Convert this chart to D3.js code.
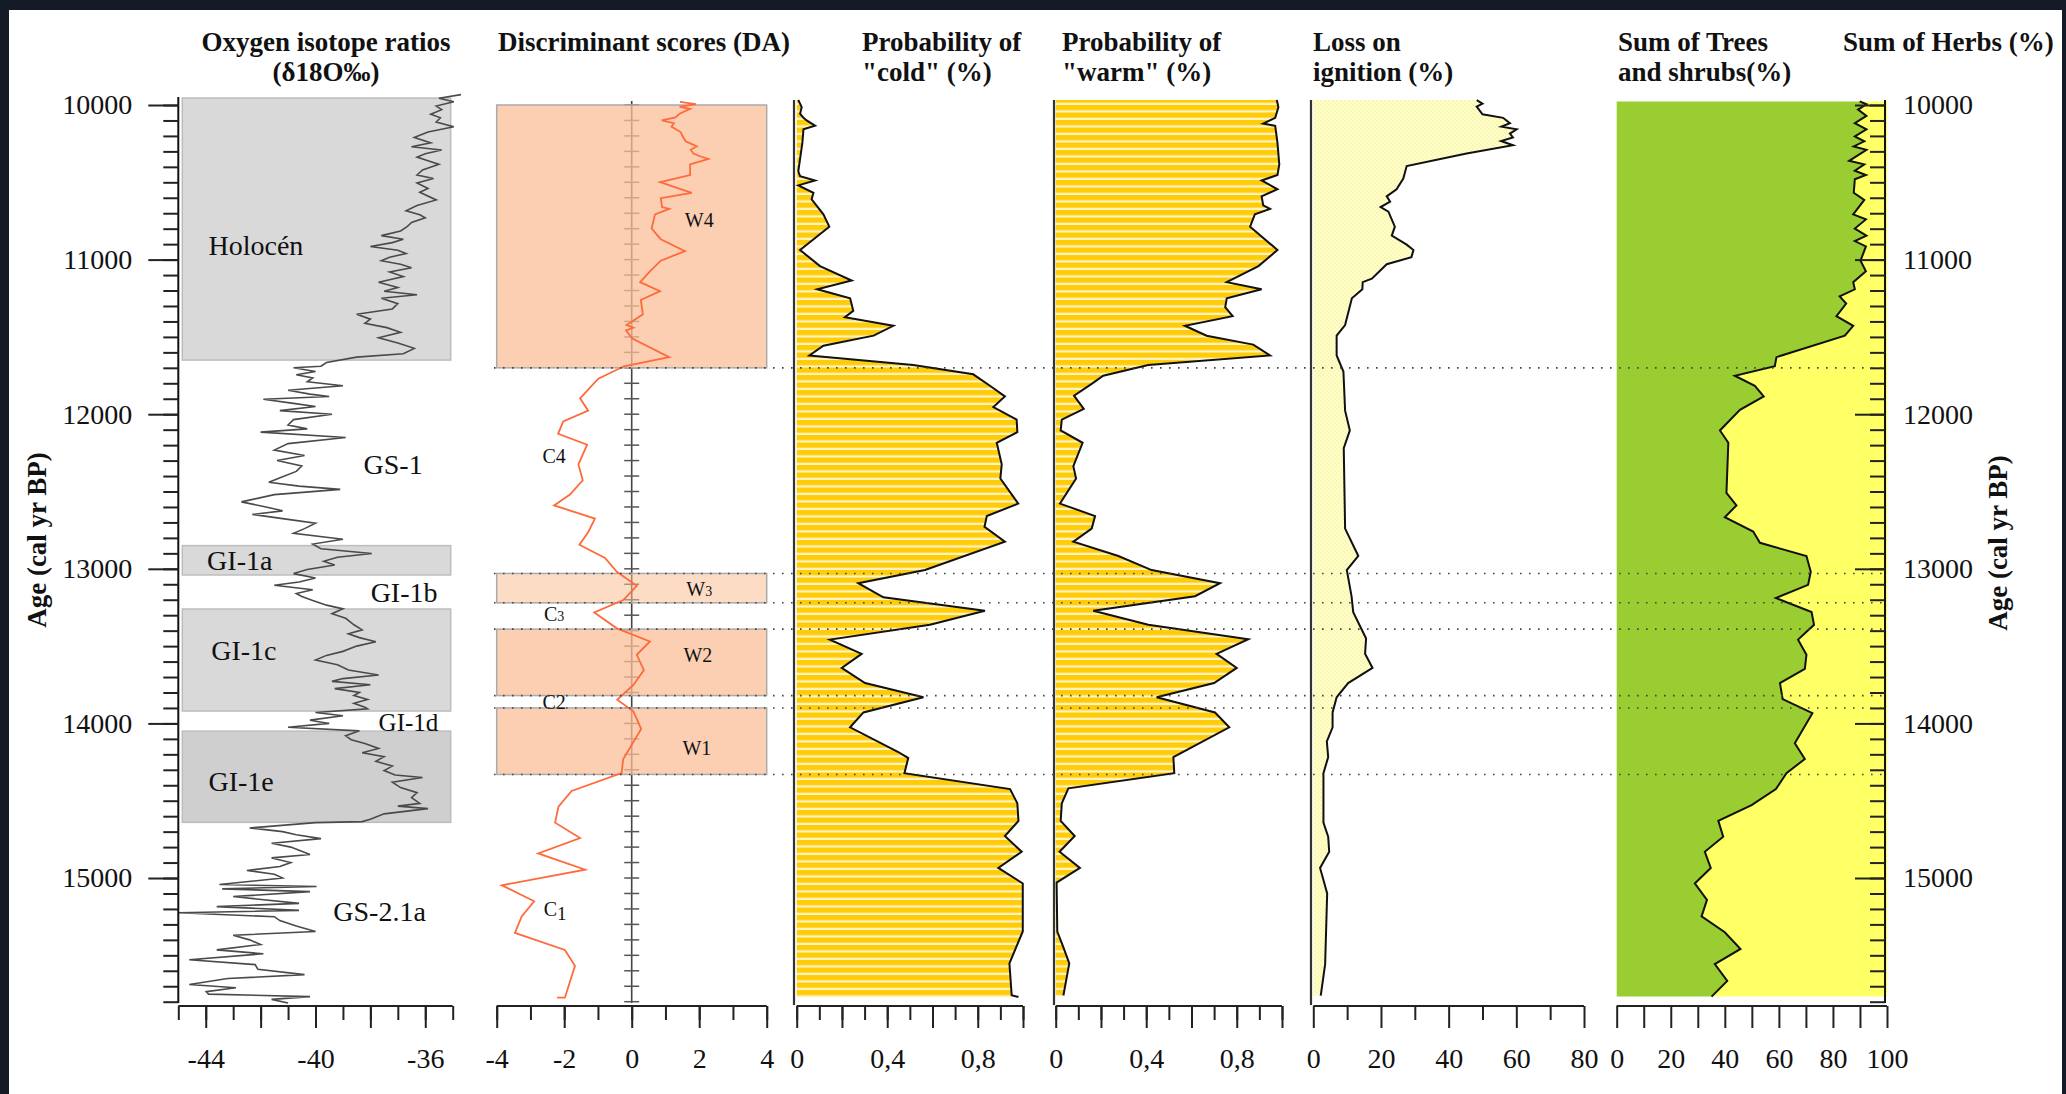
<!DOCTYPE html>
<html>
<head>
<meta charset="utf-8">
<script src="https://cdn.jsdelivr.net/npm/d3@7"></script>
<style>
  html, body { margin: 0; padding: 0; background: #151b26; }
  svg { display: block; font-family: "Liberation Serif", "Times New Roman", serif; }
  svg text { font-family: "Liberation Serif", "Times New Roman", serif !important; }
</style>
</head>
<body>
<svg id="chart" width="2066" height="1094"></svg>
<script>
// ages (cal yr BP) and values, as [age, value]
const ageTicks = [10000, 11000, 12000, 13000, 14000, 15000];
const boundaries = [11700, 13030, 13220, 13390, 13820, 13900, 14330];

const isoZones = [
  { from: 9955, to: 11650, dark: false },
  { from: 12850, to: 13040, dark: false },
  { from: 13260, to: 13920, dark: false },
  { from: 14050, to: 14640, dark: true }
];
const isoLabels = [
  ["Holocén", -43.9, 10906, 28], ["GS-1", -38.25, 12322, 28], ["GI-1a", -43.95, 12943, 28],
  ["GI-1b", -37.99, 13150, 28], ["GI-1c", -43.8, 13525, 28], ["GI-1d", -37.7, 13991, 25],
  ["GI-1e", -43.9, 14373, 28], ["GS-2.1a", -39.35, 15213, 28]
];

const daZones = [
  { from: 10000, to: 11700, light: false },
  { from: 13030, to: 13220, light: true },
  { from: 13390, to: 13820, light: false },
  { from: 13900, to: 14330, light: false }
];
const daLabels = [
  ["W", "4", 2.0, 10744], ["C", "4", -2.3, 12270], ["W", "3", 2.0, 13131], ["C", "3", -2.3, 13292],
  ["W", "2", 1.96, 13558], ["C", "2", -2.3, 13862], ["W", "1", 1.93, 14159], ["C", "1", -2.27, 15200]
];

const oxygen = [[9933,-34.7],[9956,-35.5],[9979,-34.96],[10007,-35.6],[10030,-35.4],[10060,-35.8],[10083,-35.45],[10110,-35.6],[10141,-34.96],[10175,-35.9],[10210,-36.4],[10245,-35.8],[10270,-36.5],[10291,-35.4],[10315,-36.0],[10337,-36.3],[10360,-35.9],[10384,-35.5],[10420,-36.1],[10453,-36.3],[10475,-35.7],[10505,-36.3],[10540,-35.9],[10565,-36.2],[10614,-35.6],[10650,-36.3],[10684,-36.7],[10710,-36.2],[10730,-36.0],[10760,-36.5],[10787,-36.66],[10815,-36.9],[10845,-37.6],[10868,-36.8],[10890,-37.2],[10915,-38.0],[10940,-37.0],[10961,-36.7],[10985,-37.3],[11007,-37.6],[11030,-36.9],[11053,-36.5],[11080,-37.3],[11110,-36.8],[11146,-37.7],[11180,-37.0],[11205,-37.5],[11227,-36.3],[11250,-37.6],[11285,-37.0],[11319,-37.2],[11354,-38.5],[11385,-38.0],[11412,-38.2],[11440,-37.4],[11470,-36.9],[11505,-37.7],[11540,-37.0],[11574,-36.4],[11609,-36.8],[11631,-38.5],[11666,-39.6],[11690,-39.8],[11700,-40.8],[11724,-40.0],[11745,-40.7],[11765,-40.1],[11790,-40.3],[11816,-39.0],[11845,-41.0],[11870,-40.2],[11885,-39.5],[11903,-41.9],[11930,-40.8],[11950,-40.0],[11977,-41.3],[12000,-39.4],[12035,-40.8],[12070,-41.0],[12095,-40.3],[12116,-42.0],[12151,-38.9],[12190,-41.0],[12232,-41.5],[12267,-40.4],[12300,-41.4],[12335,-40.5],[12370,-40.7],[12405,-41.2],[12440,-41.7],[12465,-40.6],[12486,-39.1],[12520,-41.5],[12567,-42.7],[12600,-41.8],[12625,-41.2],[12648,-42.3],[12680,-41.0],[12705,-40.0],[12740,-40.4],[12770,-40.8],[12809,-39.0],[12840,-40.1],[12870,-39.8],[12901,-37.95],[12925,-39.2],[12951,-39.7],[12975,-39.3],[13005,-40.3],[13031,-40.8],[13060,-40.0],[13085,-40.6],[13106,-41.5],[13135,-40.1],[13160,-40.7],[13179,-40.5],[13205,-40.1],[13235,-39.6],[13259,-39.0],[13290,-39.4],[13320,-38.9],[13362,-38.6],[13395,-38.3],[13420,-38.8],[13445,-38.4],[13472,-37.8],[13500,-38.5],[13534,-39.0],[13560,-39.6],[13590,-40.0],[13620,-39.2],[13655,-38.8],[13687,-37.7],[13710,-39.0],[13728,-39.4],[13750,-38.0],[13775,-39.3],[13800,-38.4],[13819,-38.6],[13845,-38.1],[13870,-38.6],[13895,-38.2],[13906,-38.1],[13929,-40.0],[13950,-39.0],[13979,-40.2],[14000,-39.5],[14025,-41.0],[14048,-38.4],[14080,-38.9],[14105,-38.7],[14130,-38.2],[14162,-37.7],[14190,-38.3],[14215,-37.5],[14245,-37.8],[14276,-37.2],[14305,-37.5],[14334,-37.1],[14350,-36.1],[14380,-37.2],[14415,-36.9],[14448,-36.3],[14480,-36.5],[14517,-36.2],[14535,-37.0],[14551,-35.9],[14585,-37.5],[14620,-38.0],[14635,-38.3],[14642,-40.0],[14676,-42.4],[14700,-41.2],[14720,-40.7],[14745,-39.8],[14775,-41.6],[14800,-40.9],[14848,-40.2],[14870,-41.6],[14900,-40.9],[14925,-41.3],[14951,-42.5],[14975,-41.5],[15000,-41.2],[15042,-43.5],[15055,-39.96],[15070,-43.4],[15088,-40.2],[15120,-43.0],[15164,-40.6],[15185,-43.6],[15209,-40.6],[15225,-45.0],[15250,-41.5],[15275,-41.3],[15310,-40.7],[15346,-40.0],[15370,-43.0],[15400,-42.4],[15430,-42.0],[15465,-43.6],[15490,-41.9],[15529,-44.6],[15560,-42.2],[15590,-42.1],[15625,-40.4],[15650,-43.2],[15689,-44.6],[15710,-42.9],[15735,-43.98],[15751,-43.9],[15767,-40.2],[15785,-41.6],[15808,-41.0]];

const daScores = [[9980,1.43],[9995,1.9],[10012,1.42],[10025,1.73],[10056,1.42],[10080,1.3],[10100,0.89],[10118,1.25],[10141,1.18],[10175,1.45],[10210,1.53],[10235,1.6],[10268,1.93],[10290,1.75],[10314,1.83],[10330,2.0],[10349,2.27],[10384,1.73],[10453,1.73],[10499,0.84],[10568,1.78],[10603,0.86],[10660,0.9],[10672,1.11],[10707,0.69],[10799,0.59],[10868,0.86],[10945,1.58],[11007,0.86],[11076,0.54],[11146,0.25],[11204,0.84],[11261,0.27],[11354,0.33],[11423,-0.15],[11440,0.05],[11458,-0.17],[11511,0.02],[11631,1.11],[11690,-0.23],[11770,-0.99],[11897,-1.53],[11977,-1.29],[12047,-2.03],[12127,-2.18],[12197,-1.32],[12324,-1.58],[12428,-1.45],[12520,-1.83],[12590,-2.30],[12675,-1.09],[12763,-1.29],[12844,-1.55],[12930,-0.79],[13019,-0.44],[13110,0.15],[13202,-0.25],[13282,-1.11],[13385,-0.44],[13470,0.54],[13556,0.15],[13655,0.36],[13751,0.05],[13847,-0.43],[13922,0.05],[14036,0.28],[14230,-0.25],[14322,-0.30],[14437,-1.78],[14539,-2.17],[14642,-2.27],[14741,-1.53],[14841,-2.77],[14946,-1.38],[15047,-3.85],[15150,-2.89],[15248,-3.26],[15355,-3.46],[15465,-1.98],[15568,-1.68],[15774,-1.98],[15774,-2.21]];

const probCold = [[9968,0.007],[10014,0.022],[10056,0.015],[10083,0.03],[10100,0.044],[10134,0.081],[10157,0.03],[10245,0.025],[10430,0.007],[10460,0.015],[10488,0.081],[10520,0.007],[10568,0.074],[10610,0.066],[10707,0.118],[10787,0.144],[10938,0.015],[11042,0.103],[11135,0.243],[11192,0.091],[11250,0.236],[11331,0.25],[11372,0.213],[11428,0.427],[11492,0.34],[11557,0.118],[11620,0.056],[11682,0.515],[11742,0.78],[11816,0.854],[11885,0.92],[11954,0.869],[12035,0.972],[12116,0.975],[12185,0.884],[12324,0.906],[12416,0.90],[12578,0.979],[12659,0.84],[12728,0.83],[12825,0.92],[13008,0.567],[13093,0.272],[13184,0.383],[13271,0.832],[13362,0.589],[13458,0.147],[13550,0.287],[13641,0.199],[13739,0.302],[13831,0.56],[13929,0.295],[14025,0.236],[14185,0.449],[14224,0.493],[14322,0.476],[14425,0.943],[14517,0.975],[14631,0.98],[14728,0.92],[14830,0.994],[14935,0.891],[15035,0.999],[15346,0.999],[15552,0.94],[15758,0.95],[15770,0.98]];

const probWarm = [[9968,0.977],[10014,0.984],[10083,0.97],[10120,0.917],[10135,0.97],[10245,0.98],[10384,0.988],[10453,0.98],[10488,0.91],[10545,0.98],[10591,0.91],[10649,0.917],[10672,0.947],[10707,0.88],[10787,0.859],[10938,0.98],[11042,0.896],[11146,0.756],[11192,0.91],[11250,0.756],[11308,0.749],[11366,0.782],[11428,0.571],[11492,0.667],[11550,0.873],[11620,0.947],[11682,0.409],[11751,0.21],[11804,0.159],[11880,0.081],[11966,0.124],[12035,0.027],[12105,0.022],[12185,0.119],[12336,0.078],[12416,0.09],[12578,0.019],[12659,0.174],[12740,0.159],[12825,0.078],[12917,0.277],[13008,0.424],[13093,0.726],[13177,0.616],[13271,0.166],[13362,0.409],[13455,0.851],[13550,0.711],[13641,0.8],[13739,0.7],[13831,0.446],[13929,0.704],[14025,0.767],[14218,0.52],[14322,0.524],[14420,0.056],[14517,0.027],[14631,0.022],[14728,0.084],[14830,0.017],[14935,0.107],[15030,0.004],[15346,0.007],[15440,0.032],[15552,0.06],[15760,0.034]];

const lossOnIgnition = [[9968,48.3],[9991,50.0],[10010,48.3],[10060,50],[10083,56.1],[10118,58.1],[10140,55.6],[10157,60.1],[10185,58.1],[10210,59],[10233,55.5],[10260,59],[10314,45.3],[10395,27.6],[10476,26.6],[10545,24.6],[10591,21.7],[10625,22.7],[10660,19.9],[10690,22.2],[10787,24.1],[10845,23.2],[10903,27.6],[10938,29.6],[10984,29.0],[11030,21.7],[11123,17.3],[11146,14.6],[11192,14.5],[11250,11.4],[11423,9.4],[11492,6.9],[11620,6.9],[11724,8.9],[11977,9.4],[12105,10.8],[12220,9.0],[12740,9.4],[12917,13.3],[13008,9.9],[13177,11.3],[13280,11.8],[13451,15.6],[13550,15.3],[13641,17.5],[13739,10.3],[13831,6.9],[13929,5.7],[14025,5.7],[14116,4.0],[14218,4.4],[14322,3.0],[14642,3.0],[14733,4.4],[14830,4.7],[14935,2.0],[15100,4.1],[15557,3.5],[15760,2.2]];

const treesShrubs = [[9977,89.9],[9995,92.4],[10030,89.3],[10070,92.4],[10118,88.1],[10157,92.4],[10203,88.1],[10235,91.6],[10268,87.7],[10290,92.4],[10361,86],[10384,91.6],[10425,88.1],[10453,92.2],[10480,88.1],[10568,87.7],[10614,91.6],[10707,87.5],[10740,92.2],[10799,88.1],[10845,92.4],[10880,88.1],[10915,92.2],[11007,90.2],[11076,92.2],[11146,87.5],[11192,88.1],[11238,82.5],[11285,84.9],[11366,81.3],[11428,87.5],[11492,84.4],[11631,59.1],[11689,58.5],[11751,43.7],[11816,51.1],[11885,54.4],[11972,45.6],[12105,38.2],[12185,41.3],[12509,40.6],[12590,44.3],[12666,40],[12759,50.5],[12832,53],[12917,70.2],[13019,71.8],[13104,70.8],[13189,58.9],[13280,72.1],[13362,73.0],[13458,67.1],[13556,70.2],[13648,69.6],[13739,60.4],[13843,61.4],[13934,72.4],[14128,65.9],[14230,69.6],[14322,62.8],[14425,58.9],[14528,49.9],[14630,37.6],[14733,39.4],[14830,32.6],[14935,34.8],[15035,28.9],[15141,33.4],[15248,31.4],[15351,40],[15459,45.8],[15557,36.3],[15666,40.9],[15767,35.1]];

const isoTickLabels = [-44, -40, -36];
const daTickLabels = [-4, -2, 0, 2, 4];
const probTickLabels = [[0, "0"], [0.4, "0,4"], [0.8, "0,8"]];
const loiTickLabels = [0, 20, 40, 60, 80];
const treeTickLabels = [0, 20, 40, 60, 80, 100];

const svg = d3.select("#chart");

svg.append("rect").attr("width", 2066).attr("height", 1094).attr("fill", "#151b26");
svg.append("rect").attr("x", 9).attr("y", 10).attr("width", 2053).attr("height", 1084).attr("fill", "#fff");

const defs = svg.append("defs");
const stripes = defs.append("pattern").attr("id", "stripes")
  .attr("patternUnits", "userSpaceOnUse").attr("width", 10).attr("height", 7.5);
stripes.append("rect").attr("width", 10).attr("height", 7.5).attr("fill", "#ffcc0a");
stripes.append("rect").attr("y", 5.3).attr("width", 10).attr("height", 2.2).attr("fill", "#fff4c8");
const dots = defs.append("pattern").attr("id", "loiFill")
  .attr("patternUnits", "userSpaceOnUse").attr("width", 4).attr("height", 4);
dots.append("rect").attr("width", 4).attr("height", 4).attr("fill", "#ffffcc");
dots.append("rect").attr("width", 2).attr("height", 2).attr("fill", "#fbf7b4");
dots.append("rect").attr("x", 2).attr("y", 2).attr("width", 2).attr("height", 2).attr("fill", "#fbf7b4");

const y = d3.scaleLinear().domain([10000, 15800]).range([105, 1001.7]);
const axisY = 1006;
const minorAges = d3.range(10000, 15801, 100);

const xIso = d3.scaleLinear().domain([-45, -35]).range([178.3, 452.7]);
const xDa = d3.scaleLinear().domain([-4, 4]).range([496.7, 766.7]);
const xCold = d3.scaleLinear().domain([0, 1]).range([796.7, 1023]);
const xWarm = d3.scaleLinear().domain([0, 1]).range([1055.7, 1282]);
const xLoi = d3.scaleLinear().domain([0, 80]).range([1313.3, 1584]);
const xTree = d3.scaleLinear().domain([0, 100]).range([1616.7, 1887]);

function styleAxis(g) {
  g.attr("font-family", null).attr("font-size", null);
  g.select(".domain").remove();
  g.selectAll(".tick line").attr("stroke", "#222").attr("stroke-width", 2);
  g.selectAll(".tick text").attr("font-size", 28).attr("fill", "#111");
}

function bottomAxis(x, minor, major, fmt, minorLen, majorLen) {
  const g = svg.append("g").attr("transform", "translate(0," + axisY + ")");
  g.append("line").attr("x1", x.range()[0]).attr("x2", x.range()[1])
    .attr("stroke", "#222").attr("stroke-width", 2);
  g.append("g").call(d3.axisBottom(x).tickValues(minor).tickSize(minorLen).tickFormat("")).call(styleAxis);
  g.append("g").call(d3.axisBottom(x).tickValues(major).tickSize(majorLen).tickPadding(20).tickFormat(fmt)).call(styleAxis);
}

function vline(x, y1, y2, color, w) {
  svg.append("line").attr("x1", x).attr("x2", x).attr("y1", y1).attr("y2", y2)
    .attr("stroke", color).attr("stroke-width", w);
}

function title(lines, x, anchor) {
  const t = svg.append("text").attr("x", x).attr("y", 51).attr("text-anchor", anchor)
    .attr("font-weight", "bold").attr("font-size", 27).attr("fill", "#111");
  lines.forEach((l, i) => t.append("tspan").attr("x", x).attr("y", 51 + i * 30).text(l));
}

// ---- Oxygen isotope panel
svg.selectAll(".isoZone").data(isoZones).enter().append("rect")
  .attr("x", xIso.range()[0] + 4).attr("width", xIso.range()[1] - xIso.range()[0] - 6)
  .attr("y", d => y(d.from)).attr("height", d => y(d.to) - y(d.from))
  .attr("fill", d => d.dark ? "#cfcfcf" : "#d9d9d9").attr("stroke", "#bdbdbd").attr("stroke-width", 1.5);

svg.append("path").datum(oxygen)
  .attr("d", d3.line().x(d => xIso(d[1])).y(d => y(d[0])))
  .attr("fill", "none").attr("stroke", "#4a4a4a").attr("stroke-width", 1.6);

svg.selectAll(".isoLabel").data(isoLabels).enter().append("text")
  .attr("x", d => xIso(d[1])).attr("y", d => y(d[2])).attr("dy", "0.35em")
  .attr("font-size", d => d[3]).attr("fill", "#111").text(d => d[0]);

vline(178.3, 97, 1003, "#111", 2);
const leftAxis = svg.append("g").attr("transform", "translate(178.3,0)");
leftAxis.append("g").call(d3.axisLeft(y).tickValues(minorAges).tickSize(15).tickFormat("")).call(styleAxis);
leftAxis.append("g").call(d3.axisLeft(y).tickValues(ageTicks).tickSize(30).tickPadding(16).tickFormat(d => String(d))).call(styleAxis);

bottomAxis(xIso, d3.range(-45, -34, 1), d3.range(-44, -35, 2),
  d => isoTickLabels.includes(d) ? String(d) : "", 14, 22);

// ---- Discriminant scores panel
vline(xDa(0), 101, 1003, "#444", 1.6);
svg.selectAll(".daTick").data(minorAges).enter().append("line")
  .attr("x1", xDa(0) - 7.5).attr("x2", xDa(0) + 7.5)
  .attr("y1", d => y(d)).attr("y2", d => y(d))
  .attr("stroke", "#555").attr("stroke-width", 1.5);

svg.selectAll(".daZone").data(daZones).enter().append("rect")
  .attr("x", xDa(-4)).attr("width", xDa(4) - xDa(-4))
  .attr("y", d => y(d.from)).attr("height", d => y(d.to) - y(d.from))
  .attr("fill", "#fbbf98").attr("fill-opacity", d => d.light ? 0.55 : 0.75)
  .attr("stroke", "#aaa").attr("stroke-width", 1.5);

svg.append("path").datum(daScores)
  .attr("d", d3.line().x(d => xDa(d[1])).y(d => y(d[0])))
  .attr("fill", "none").attr("stroke", "#ff6a3c").attr("stroke-width", 1.8);

daLabels.forEach(d => {
  const t = svg.append("text").attr("x", xDa(d[2])).attr("y", y(d[3])).attr("dy", "0.35em")
    .attr("text-anchor", "middle").attr("font-size", 20).attr("fill", "#111").text(d[0]);
  if (d[1] === "3") t.append("tspan").attr("font-size", 14).text(d[1]);
  else if (d[0] === "C" && d[1] === "1") t.append("tspan").attr("dy", 4).attr("font-size", 19).text(d[1]);
  else t.append("tspan").text(d[1]);
});

bottomAxis(xDa, d3.range(-4, 5, 1), daTickLabels, d => String(d), 14, 22);

// ---- Probability panels
function probPanel(x, data, axisX) {
  svg.append("path").datum(data)
    .attr("d", d3.area().y(d => y(d[0])).x0(x(0)).x1(d => x(d[1])))
    .attr("fill", "url(#stripes)");
  svg.append("path").datum(data)
    .attr("d", d3.line().x(d => x(d[1])).y(d => y(d[0])))
    .attr("fill", "none").attr("stroke", "#111").attr("stroke-width", 2);
  vline(axisX, 100, 1005, "#333", 2.2);
  bottomAxis(x, d3.range(0, 1.01, 0.1), d3.range(0, 1.01, 0.2), d => {
    const hit = probTickLabels.find(p => Math.abs(p[0] - d) < 1e-6);
    return hit ? hit[1] : "";
  }, 14, 22);
}
probPanel(xCold, probCold, 794);
probPanel(xWarm, probWarm, 1054);

// ---- Loss on ignition
svg.append("path").datum(lossOnIgnition)
  .attr("d", d3.area().y(d => y(d[0])).x0(xLoi(0)).x1(d => xLoi(d[1])))
  .attr("fill", "url(#loiFill)");
svg.append("path").datum(lossOnIgnition)
  .attr("d", d3.line().x(d => xLoi(d[1])).y(d => y(d[0])))
  .attr("fill", "none").attr("stroke", "#111").attr("stroke-width", 2);
vline(1311, 100, 1005, "#333", 2.2);
bottomAxis(xLoi, [10, 30, 50, 70], loiTickLabels, d => String(d), 14, 22);

// ---- Trees and shrubs / herbs
svg.append("path").datum(treesShrubs)
  .attr("d", d3.area().y(d => y(d[0])).x0(xTree(0)).x1(d => xTree(d[1])))
  .attr("fill", "#9acd32");
svg.append("path").datum(treesShrubs)
  .attr("d", d3.area().y(d => y(d[0])).x0(d => xTree(d[1])).x1(xTree(100)))
  .attr("fill", "#ffff66");
svg.append("path").datum(treesShrubs)
  .attr("d", d3.line().x(d => xTree(d[1])).y(d => y(d[0])))
  .attr("fill", "none").attr("stroke", "#111").attr("stroke-width", 2);

vline(1885, 100, 1003, "#111", 2);
const rightAxis = svg.append("g").attr("transform", "translate(1885,0)");
rightAxis.append("g").call(d3.axisLeft(y).tickValues(minorAges).tickSize(15).tickFormat("")).call(styleAxis);
rightAxis.append("g").call(d3.axisLeft(y).tickValues(ageTicks).tickSize(30).tickFormat("")).call(styleAxis);
rightAxis.append("g").call(d3.axisRight(y).tickValues(ageTicks).tickSize(0).tickPadding(18).tickFormat(d => String(d))).call(styleAxis);

bottomAxis(xTree, [], d3.range(0, 101, 10), d => treeTickLabels.includes(d) ? String(d) : "", 0, 22);

// ---- zone boundaries
svg.selectAll(".boundary").data(boundaries).enter().append("line")
  .attr("x1", 494).attr("x2", 1882)
  .attr("y1", d => y(d)).attr("y2", d => y(d))
  .attr("stroke", "#444").attr("stroke-width", 1.6).attr("stroke-dasharray", "1.6,7.4");

// ---- titles
title(["Oxygen isotope ratios", "(δ18O‰)"], 326, "middle");
title(["Discriminant scores (DA)"], 498, "start");
title(["Probability of", "\"cold\" (%)"], 862, "start");
title(["Probability of", "\"warm\" (%)"], 1062, "start");
title(["Loss on", "ignition (%)"], 1313, "start");
title(["Sum of Trees", "and shrubs(%)"], 1618, "start");
title(["Sum of Herbs (%)"], 1843, "start");

[[37, 540], [1998, 543]].forEach(p => {
  svg.append("text").attr("transform", "translate(" + p[0] + "," + p[1] + ") rotate(-90)")
    .attr("text-anchor", "middle").attr("dy", "0.35em")
    .attr("font-weight", "bold").attr("font-size", 27).attr("fill", "#111")
    .text("Age (cal yr BP)");
});
</script>
</body>
</html>
